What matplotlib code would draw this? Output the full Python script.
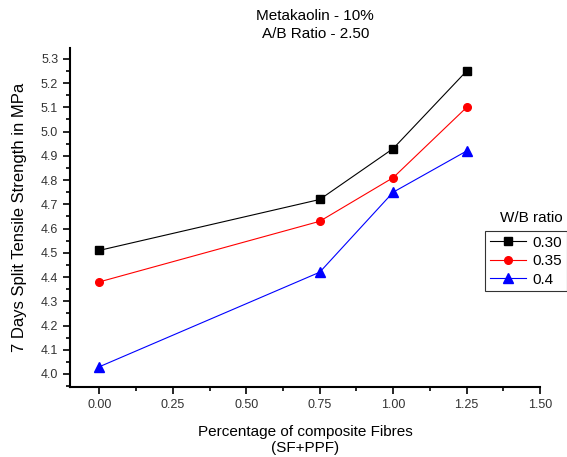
import numpy as np
import matplotlib.pyplot as plt
from matplotlib.ticker import MultipleLocator

plt.rcParams['font.family'] = ['Liberation Sans', 'DejaVu Sans']

# fibre percentage and 7-day split tensile strength (MPa)
fibres = [0.00, 0.75, 1.00, 1.25]
wb_030 = [4.51, 4.72, 4.93, 5.25]
wb_035 = [4.38, 4.63, 4.81, 5.10]
wb_040 = [4.03, 4.42, 4.75, 4.92]
series_labels = ['0.30', '0.35', '0.4']

fig = plt.figure(figsize=(5.67, 4.57), dpi=100)
ax = fig.add_axes([0.1235, 0.153, 0.829, 0.742])

ax.plot(fibres, wb_030, color='black', marker='s', markersize=5.5, lw=0.8, label=series_labels[0])
ax.plot(fibres, wb_035, color='red', marker='o', markersize=5.5, lw=0.8, label=series_labels[1])
ax.plot(fibres, wb_040, color='blue', marker='^', markersize=6.5, lw=0.8, label=series_labels[2])

ax.set_xlim(-0.1, 1.5)
ax.set_ylim(3.946, 5.345)
ax.xaxis.set_major_locator(MultipleLocator(0.25))
ax.xaxis.set_minor_locator(MultipleLocator(0.125))
ax.yaxis.set_major_locator(MultipleLocator(0.1))
ax.yaxis.set_minor_locator(MultipleLocator(0.05))
ax.xaxis.set_major_formatter(plt.FormatStrFormatter('%.2f'))
ax.yaxis.set_major_formatter(plt.FormatStrFormatter('%.1f'))
ax.tick_params(which='major', direction='out', length=5, width=1.2, labelsize=9, colors='black')
ax.tick_params(which='minor', direction='out', length=3, width=1.2)
for lab in ax.get_xticklabels() + ax.get_yticklabels():
    lab.set_color('#333333')

ax.spines['top'].set_visible(False)
ax.spines['right'].set_visible(False)
ax.spines['left'].set_linewidth(1.5)
ax.spines['bottom'].set_linewidth(1.5)

ax.set_xlabel('Percentage of composite Fibres\n(SF+PPF)', fontsize=11, labelpad=10)
ax.set_ylabel('7 Days Split Tensile Strength in MPa', fontsize=12, labelpad=10)

fig.text(0.556, 0.965, 'Metakaolin - 10%', ha='center', va='center', fontsize=11)
fig.text(0.556, 0.926, 'A/B Ratio - 2.50', ha='center', va='center', fontsize=11)

fig.text(531 / 567, 1 - 218 / 457, 'W/B ratio', ha='center', va='center', fontsize=11)
leg = ax.legend(loc='upper left', bbox_to_anchor=(485 / 567, 1 - 231 / 457),
                bbox_transform=fig.transFigure, fontsize=11, frameon=True,
                fancybox=False, edgecolor='black', handlelength=2.4,
                borderpad=0.3, labelspacing=0.3, handletextpad=0.4, borderaxespad=0)
leg.get_frame().set_linewidth(0.8)

fig.savefig('out.png', dpi=100)
